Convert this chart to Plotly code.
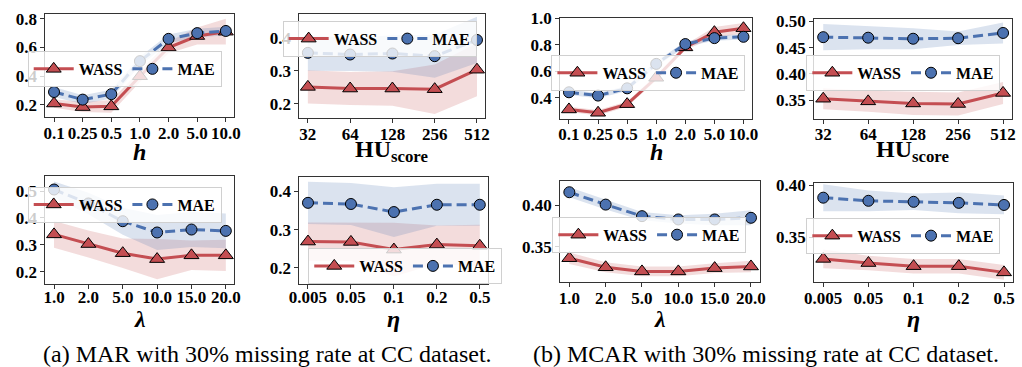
import plotly.graph_objects as go

W, H = 1022, 367
RED, BLUE = '#C44E52', '#4C72B0'
RED_FILL, BLUE_FILL = 'rgba(196,78,82,0.2)', 'rgba(76,114,176,0.2)'
FONT = '"Liberation Serif", "Times New Roman", Times, serif'

# ---------------- data ----------------
h_labels = ['0.1', '0.25', '0.5', '1.0', '2.0', '5.0', '10.0']
hu_labels = ['32', '64', '128', '256', '512']
lam_labels = ['1.0', '2.0', '5.0', '10.0', '15.0', '20.0']
eta_labels = ['0.005', '0.05', '0.1', '0.2', '0.5']

# (a) MAR
mar_h_wass = [0.21, 0.185, 0.19, 0.40, 0.60, 0.68, 0.71]
mar_h_wass_std = [0.03, 0.035, 0.045, 0.04, 0.04, 0.06, 0.09]
mar_h_mae = [0.29, 0.237, 0.275, 0.505, 0.66, 0.70, 0.715]
mar_h_mae_std = [0.035, 0.03, 0.03, 0.03, 0.03, 0.03, 0.03]

mar_hu_wass = [0.251, 0.246, 0.246, 0.244, 0.303]
mar_hu_wass_std = [0.05, 0.05, 0.052, 0.075, 0.08]
mar_hu_mae = [0.354, 0.349, 0.352, 0.344, 0.393]
mar_hu_mae_std = [0.054, 0.05, 0.055, 0.065, 0.07]

mar_lam_wass = [0.339, 0.303, 0.269, 0.247, 0.261, 0.261]
mar_lam_wass_std = [0.05, 0.05, 0.055, 0.075, 0.055, 0.058]
mar_lam_mae = [0.506, 0.454, 0.388, 0.346, 0.357, 0.352]
mar_lam_mae_std = [0.03, 0.04, 0.05, 0.065, 0.065, 0.065]

mar_eta_wass = [0.269, 0.268, 0.248, 0.261, 0.258]
mar_eta_wass_std = [0.05, 0.05, 0.07, 0.05, 0.055]
mar_eta_mae = [0.370, 0.367, 0.346, 0.365, 0.365]
mar_eta_mae_std = [0.055, 0.055, 0.065, 0.055, 0.055]

# (b) MCAR
mcar_h_wass = [0.31, 0.285, 0.35, 0.55, 0.78, 0.895, 0.925]
mcar_h_wass_std = [0.02, 0.02, 0.02, 0.02, 0.02, 0.04, 0.04]
mcar_h_mae = [0.44, 0.415, 0.47, 0.655, 0.805, 0.85, 0.86]
mcar_h_mae_std = [0.02, 0.02, 0.02, 0.02, 0.02, 0.02, 0.02]

mcar_hu_wass = [0.353, 0.348, 0.344, 0.343, 0.364]
mcar_hu_wass_std = [0.02, 0.02, 0.022, 0.022, 0.021]
mcar_hu_mae = [0.470, 0.469, 0.467, 0.468, 0.478]
mcar_hu_mae_std = [0.025, 0.022, 0.02, 0.013, 0.02]

mcar_lam_wass = [0.336, 0.325, 0.320, 0.320, 0.324, 0.326]
mcar_lam_wass_std = [0.007, 0.006, 0.006, 0.006, 0.006, 0.007]
mcar_lam_mae = [0.416, 0.401, 0.387, 0.383, 0.383, 0.385]
mcar_lam_mae_std = [0.006, 0.006, 0.005, 0.005, 0.007, 0.009]

mcar_eta_wass = [0.329, 0.325, 0.322, 0.322, 0.316]
mcar_eta_wass_std = [0.009, 0.007, 0.007, 0.007, 0.007]
mcar_eta_mae = [0.388, 0.385, 0.384, 0.383, 0.381]
mcar_eta_mae_std = [0.013, 0.01, 0.008, 0.01, 0.009]

captions = ['(a) MAR with 30% missing rate at CC dataset.',
            '(b) MCAR with 30% missing rate at CC dataset.']

# ---------------- layout spec (pixels) ----------------
panels = [
    dict(lab=h_labels, w=mar_h_wass, ws=mar_h_wass_std, m=mar_h_mae, ms=mar_h_mae_std,
         box=(36, 228, 5, 111), yr=(0.114, 0.834), dt=0.2, fmt='.1f', title='<b><i>h</i></b>', ty=147, so=-4, leg=(18, 43)),
    dict(lab=hu_labels, w=mar_hu_wass, ws=mar_hu_wass_std, m=mar_hu_mae, ms=mar_hu_mae_std,
         box=(294, 483, 5, 112), yr=(0.156, 0.472), dt=0.1, fmt='.1f', title='<b>HU<sub>score</sub></b>', ty=146, so=-4, leg=(277, 12)),
    dict(lab=h_labels, w=mcar_h_wass, ws=mcar_h_wass_std, m=mcar_h_mae, ms=mcar_h_mae_std,
         box=(559, 754, 9, 113), yr=(0.236, 1.004), dt=0.2, fmt='.1f', title='<b><i>h</i></b>', ty=147, so=-5, leg=(550, 47)),
    dict(lab=hu_labels, w=mcar_hu_wass, ws=mcar_hu_wass_std, m=mcar_hu_mae, ms=mcar_hu_mae_std,
         box=(817, 1018, 10, 113), yr=(0.314, 0.505), dt=0.05, fmt='.2f', title='<b>HU<sub>score</sub></b>', ty=146, so=-5, leg=(809, 47)),
    dict(lab=lam_labels, w=mar_lam_wass, ws=mar_lam_wass_std, m=mar_lam_mae, ms=mar_lam_mae_std,
         box=(36, 228, 171, 282), yr=(0.154, 0.557), dt=0.1, fmt='.1f', title='<b><i>λ</i></b>', ty=318, so=-6, leg=(18, 182)),
    dict(lab=eta_labels, w=mar_eta_wass, ws=mar_eta_wass_std, m=mar_eta_mae, ms=mar_eta_mae_std,
         box=(294, 486, 172, 282), yr=(0.158, 0.438), dt=0.1, fmt='.1f', title='<b><i>η</i></b>', ty=318, so=-6, leg=(303, 245)),
    dict(lab=lam_labels, w=mcar_lam_wass, ws=mcar_lam_wass_std, m=mcar_lam_mae, ms=mcar_lam_mae_std,
         box=(559, 762, 176, 280), yr=(0.307, 0.430), dt=0.05, fmt='.2f', title='<b><i>λ</i></b>', ty=318, so=-4, leg=(551, 213)),
    dict(lab=eta_labels, w=mcar_eta_wass, ws=mcar_eta_wass_std, m=mcar_eta_mae, ms=mcar_eta_mae_std,
         box=(817, 1019, 178, 280), yr=(0.3066, 0.4025), dt=0.05, fmt='.2f', title='<b><i>η</i></b>', ty=318, so=-4, leg=(809, 214)),
]

fig = go.Figure()
layout = dict(width=W, height=H, margin=dict(l=0, r=0, t=0, b=0),
              paper_bgcolor='white', plot_bgcolor='white', annotations=[])

for i, p in enumerate(panels, start=1):
    sfx = '' if i == 1 else str(i)
    xa, ya = 'x' + sfx, 'y' + sfx
    lg = 'legend' + sfx
    n = len(p['lab'])
    idx = list(range(n))
    for mean, std, fillc in ((p['w'], p['ws'], RED_FILL), (p['m'], p['ms'], BLUE_FILL)):
        up = [a + b for a, b in zip(mean, std)]
        lo = [a - b for a, b in zip(mean, std)]
        fig.add_trace(go.Scatter(x=idx + idx[::-1], y=up + lo[::-1], fill='toself',
                                 fillcolor=fillc, line=dict(width=0), mode='lines',
                                 hoverinfo='skip', showlegend=False, xaxis=xa, yaxis=ya))
    fig.add_trace(go.Scatter(x=idx, y=p['w'], name='WASS', mode='lines+markers',
                             line=dict(color=RED, width=3),
                             marker=dict(symbol='triangle-up', size=13, color=RED,
                                         line=dict(color='black', width=1)),
                             xaxis=xa, yaxis=ya, legend=lg))
    fig.add_trace(go.Scatter(x=idx, y=p['m'], name='MAE', mode='lines+markers',
                             line=dict(color=BLUE, width=3, dash='10px,5px'),
                             marker=dict(symbol='circle', size=11, color=BLUE,
                                         line=dict(color='black', width=1)),
                             xaxis=xa, yaxis=ya, legend=lg))
    x0, x1, y0, y1 = p['box']
    pad = 0.05 * (n - 1)
    axis_common = dict(showline=True, mirror=True, linecolor='#333333', linewidth=1,
                       ticks='outside', ticklen=4, tickcolor='#333333', showgrid=False,
                       zeroline=False, tickangle=0,
                       tickfont=dict(family=FONT, size=17, color='black', weight='bold'))
    layout['xaxis' + sfx] = dict(domain=[x0 / W, x1 / W], anchor=ya, range=[-pad, n - 1 + pad],
                                 tickmode='array', tickvals=idx, ticktext=p['lab'],
                                 ticklabelstandoff=p['so'], **axis_common)
    layout['yaxis' + sfx] = dict(domain=[1 - y1 / H, 1 - y0 / H], anchor=xa, range=list(p['yr']),
                                 dtick=p['dt'], tick0=0, tickformat=p['fmt'], **axis_common)
    lx, ly = p['leg']
    layout[lg] = dict(x=lx / W, y=1 - ly / H, xanchor='left', yanchor='top', orientation='h',
                      bgcolor='rgba(255,255,255,0.8)', bordercolor='#d0d0d0', borderwidth=1,
                      font=dict(family=FONT, size=16, color='black', weight='bold'),
                      itemwidth=40, tracegroupgap=0)
    layout['annotations'].append(dict(text=p['title'], x=(x0 + x1) / 2 / W, y=1 - p['ty'] / H,
                                      xref='paper', yref='paper', showarrow=False,
                                      xanchor='center', yanchor='middle',
                                      font=dict(family=FONT, size=24, color='black')))

for cap, cx in zip(captions, (262, 768)):
    layout['annotations'].append(dict(text=cap, x=cx / W, y=1 - 354 / H, xref='paper', yref='paper',
                                      showarrow=False, xanchor='center', yanchor='middle',
                                      font=dict(family=FONT, size=24, color='black')))

fig.update_layout(**layout)
fig.write_html('out.html')
